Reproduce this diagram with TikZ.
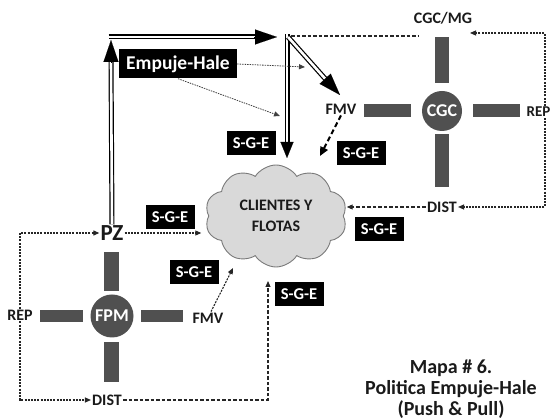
\documentclass[tikz,border=0pt]{standalone}
\usepackage{fontspec}
\setmainfont{Carlito}
\usetikzlibrary{arrows.meta,shapes.symbols,calc}
\definecolor{bargray}{HTML}{505050}
\definecolor{cloudfill}{HTML}{D9D9D9}
\definecolor{cloudline}{HTML}{7A7A7A}
\definecolor{txt}{HTML}{1A1A1A}
\tikzset{
  lbl/.style={font=\fontsize{16}{18}\selectfont\bfseries, text=txt, inner sep=1pt},
  sgebox/.style={fill=black, text=white, font=\fontsize{16.5}{18}\selectfont\bfseries, minimum width=49pt, minimum height=24pt, inner sep=0pt},
  bar/.style={fill=bargray, draw=none},
  hub/.style={circle, fill=bargray, text=white, font=\fontsize{18}{20}\selectfont\bfseries, inner sep=0pt},
  dbl/.style={line width=1.2pt, double=white, double distance=2.6pt},
  headA/.style={line width=0.1pt, -{Triangle[length=22pt,width=15pt]}},
  headB/.style={line width=0.1pt, -{Triangle[length=16pt,width=13pt]}},
  dots/.style={line width=1.1pt, draw=black!85, dash pattern=on 2pt off 1.2pt, -{Triangle[length=6pt,width=5pt]}},
  dsh/.style={line width=1.1pt, draw=black!85, dash pattern=on 3.5pt off 2pt},
  dshtip/.style={dsh, -{Triangle[length=6pt,width=5pt]}},
  dshthick/.style={line width=2pt, dash pattern=on 5pt off 3pt, -{Triangle[length=9pt,width=8pt]}},
  fine/.style={line width=0.8pt, draw=black!75, dash pattern=on 1.5pt off 1pt, -{Triangle[length=6pt,width=5pt]}}
}
\begin{document}
\begin{tikzpicture}[x=1pt,y=-1pt]
\useasboundingbox (0,0) rectangle (552,419);

% CGC cross
\fill[bar] (435,37) rectangle (449,83);
\fill[bar] (435,134) rectangle (449,187);
\fill[bar] (364,104) rectangle (411,117);
\fill[bar] (473,104) rectangle (520,117);
\node[hub, minimum size=40pt] (cgc) at (442,111) {CGC};

% FPM cross
\fill[bar] (104,252) rectangle (119,291);
\fill[bar] (104,342) rectangle (119,382);
\fill[bar] (40,310) rectangle (83,322);
\fill[bar] (141,310) rectangle (183,322);
\node[hub, minimum size=43pt] (fpm) at (112,316) {FPM};

% labels
\node[lbl] (cgcmg) at (443,18) {CGC/MG};
\node[lbl, anchor=east, font=\fontsize{15}{17}\selectfont\bfseries] (rep1) at (551.5,112) {REP};
\node[lbl] (fmv1) at (341,109) {FMV};
\node[lbl] (dist1) at (442,207) {DIST};
\node[lbl, font=\fontsize{23}{25}\selectfont\bfseries] (pz) at (112,233) {PZ};
\node[lbl] (rep2) at (20,315) {REP};
\node[lbl] (fmv2) at (208,318) {FMV};
\node[lbl] (dist2) at (107,400) {DIST};

% cloud
\node[cloud, cloud puffs=10, cloud puff arc=115, aspect=1.45, minimum width=142pt, minimum height=102pt,
      fill=cloudfill, draw=cloudline, line width=0.9pt, align=center,
      font=\fontsize{16}{21}\selectfont\bfseries, text=txt] (cl) at (276,216) {CLIENTES Y\\FLOTAS};

% S-G-E boxes
\node[sgebox] (s1) at (251,143) {S-G-E};
\node[sgebox] (s2) at (361,153) {S-G-E};
\node[sgebox] (s3) at (379,229) {S-G-E};
\node[sgebox] (s4) at (299,294) {S-G-E};
\node[sgebox] (s5) at (170,217) {S-G-E};
\node[sgebox] (s6) at (194,272) {S-G-E};

% Empuje-Hale
\node[fill=black, text=white, font=\fontsize{19.5}{21}\selectfont\bfseries, minimum width=118pt, minimum height=29pt, inner sep=0pt] (eh) at (178,64) {Empuje-Hale};

% title
\node[font=\fontsize{20}{21}\selectfont\bfseries, text=txt, align=center] (title) at (451,389) {Mapa \# 6.\hspace{10pt}\\Politica Empuje-Hale\\(Push \& Pull)};

% coordinates
\coordinate (tl) at (111,37);
\coordinate (tr) at (287,37);
\coordinate (topend) at (418,36);
\coordinate (downtip) at (287,158);
\coordinate (diagtip) at (340,95);
\coordinate (cgcin) at (470,33);
\coordinate (fmvin) at (320,156);
\coordinate (clin) at (268,281);
\coordinate (fmv2in) at (233,268);
\coordinate (ehin1) at (305,67);
\coordinate (ehin2) at (280,116);

% double arrows
\draw[dbl] (pz.north) -- ($(tl)+(0,24)$);
\draw[headA] ($(tl)+(0,26)$) -- ($(tl)+(0,3)$);
\draw[dbl] ($(tl)+(-2.5,0)$) -- ($(tr)+(-32,0)$);
\draw[headA] ($(tr)+(-33,0)$) -- ($(tr)+(-10,0)$);
\draw[dbl] ($(tr)+(0,-2.5)$) -- ($(downtip)+(0,-15)$);
\draw[headB] ($(downtip)+(0,-16)$) -- (downtip);
\draw[dbl] ($(tr)+(1,0)$) -- ($(diagtip)!19pt!(tr)$);
\draw[headA] ($(diagtip)!20pt!(tr)$) -- (diagtip);
\draw[dsh] ($(tr)+(4,-1)$) -- (topend);

% Empuje-Hale pointers
\draw[fine] (eh.east) -- (ehin1);
\draw[fine] (eh.south) -- (ehin2);

% CGC side connectors
\draw[dots] (rep1.north -| 545,0) |- (cgcin);
\draw[dots] (rep1.south -| 545,0) |- (dist1.east);
\draw[dshtip, shorten >=3pt] (dist1.west) -- (dist1.west -| cl.east);
\draw[dshthick] (fmv1.south) -- (fmvin);

% FPM side connectors
\draw[dots, shorten >=7pt] (pz.east) -- (pz.east -| cl.west);
\draw[dots] (rep2.north) |- (pz.west);
\draw[dots] (rep2.south) |- (dist2.west);
\draw[dshtip] (dist2.east) -| (clin);
\draw[dots] ($(fmv2.north)+(3,0)$) -- (fmv2in);
\end{tikzpicture}
\end{document}
